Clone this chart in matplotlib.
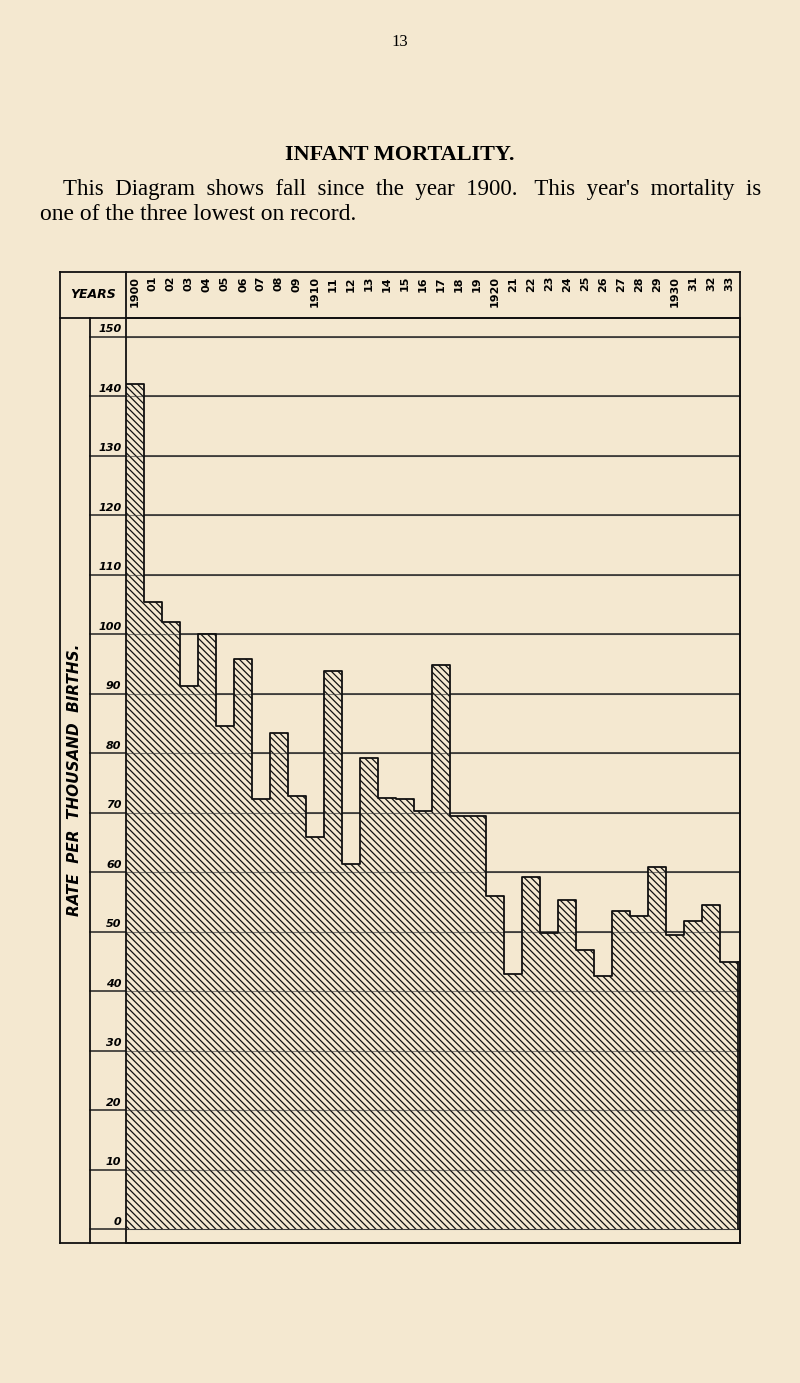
import matplotlib
matplotlib.use("Agg")
import matplotlib.pyplot as plt
import numpy as np

years = list(range(1900, 1934))
rates = [142, 105.4, 102, 91.3, 100, 84.5, 95.8, 72.2, 83.4, 72.8, 65.9, 93.8,
         61.4, 79.1, 72.5, 72.2, 70.2, 94.8, 69.4, 69.4, 56, 42.9, 59.2, 49.8,
         55.3, 46.9, 42.5, 53.5, 52.6, 60.8, 49.4, 51.7, 54.5, 44.8]
yticks = list(range(0, 151, 10))

W, H = 800, 1383
bg = "#f4e8d0"
fig = plt.figure(figsize=(W/100, H/100), dpi=100, facecolor=bg)

def fx(px): return px / W
def fy(py): return 1 - py / H

serif = "Liberation Serif"
fig.text(fx(400), fy(42), "13", ha="center", va="center", fontsize=12, family=serif)
fig.text(fx(400), fy(155), "INFANT MORTALITY.", ha="center", va="center",
         fontsize=16, weight="bold", family=serif)
fig.text(fx(63), fy(190), "This  Diagram  shows  fall  since  the  year  1900.   This  year's  mortality  is",
         ha="left", va="center", fontsize=16.5, family=serif)
fig.text(fx(40), fy(215), "one of the three lowest on record.", ha="left", va="center",
         fontsize=17, family=serif)

L, R, T, B = 126, 740, 318, 1243
ax = fig.add_axes([fx(L), fy(B), fx(R) - fx(L), fy(T) - fy(B)])
ax.set_facecolor("none")
px_per = 59.5 / 10
y0 = 1229
ax.set_ylim(-(B - y0) / px_per, (y0 - T) / px_per)
ax.set_xlim(0, (R - L) / 18.0)
plt.rcParams['hatch.linewidth'] = 0.9
x = np.arange(len(years) + 1)
yv = np.array(rates + [rates[-1]])
ax.fill_between(x, 0, yv, step="post", facecolor=bg, edgecolor="#111",
                hatch="\\\\\\\\\\", linewidth=0, zorder=2)
ax.step(x, yv, where="post", color="#111", lw=1.3, zorder=3)
ax.plot([x[-1], x[-1]], [0, yv[-1]], color="#111", lw=1.3, zorder=3)
for v in yticks:
    ax.plot([-(L - 90) / 18.0, (R - L) / 18.0], [v, v], color="#222", lw=1.1,
            clip_on=False, zorder=1)
    ax.plot([0, (R - L) / 18.0], [v, v], color="#333", lw=0.8, alpha=0.6, zorder=2.5)
    ax.text(-0.25, v + 0.4, str(v), ha="right", va="bottom", fontsize=8,
            style="italic", weight="bold")
ax.set_xticks([]); ax.set_yticks([])
for s in ax.spines.values():
    s.set_color("#111"); s.set_linewidth(1.3)

fr = fig.add_axes([fx(60), fy(B), fx(R) - fx(60), fy(272) - fy(B)])
fr.set_facecolor("none"); fr.set_xticks([]); fr.set_yticks([])
for s in fr.spines.values():
    s.set_color("#111"); s.set_linewidth(1.3)
fig.add_artist(plt.Line2D([fx(60), fx(R)], [fy(T), fy(T)], color="#111", lw=1.3))
fig.add_artist(plt.Line2D([fx(90), fx(90)], [fy(T), fy(B)], color="#111", lw=1.3))
fig.add_artist(plt.Line2D([fx(L), fx(L)], [fy(272), fy(T)], color="#111", lw=1.3))
fig.text(fx(93), fy(295), "YEARS", ha="center", va="center", fontsize=9,
         weight="bold", style="italic")
fig.text(fx(75), fy(780), "RATE  PER  THOUSAND  BIRTHS.", rotation=90, ha="center",
         va="center", fontsize=11, weight="bold", style="italic")
for i, yr in enumerate(years):
    lab = str(yr) if yr % 10 == 0 else f"{yr % 100:02d}"
    fig.text(fx(L + 18 * i + 9), fy(276), lab, rotation=90, ha="center", va="top",
             fontsize=8, weight="bold")

fig.savefig("out.png", dpi=100, facecolor=bg)
